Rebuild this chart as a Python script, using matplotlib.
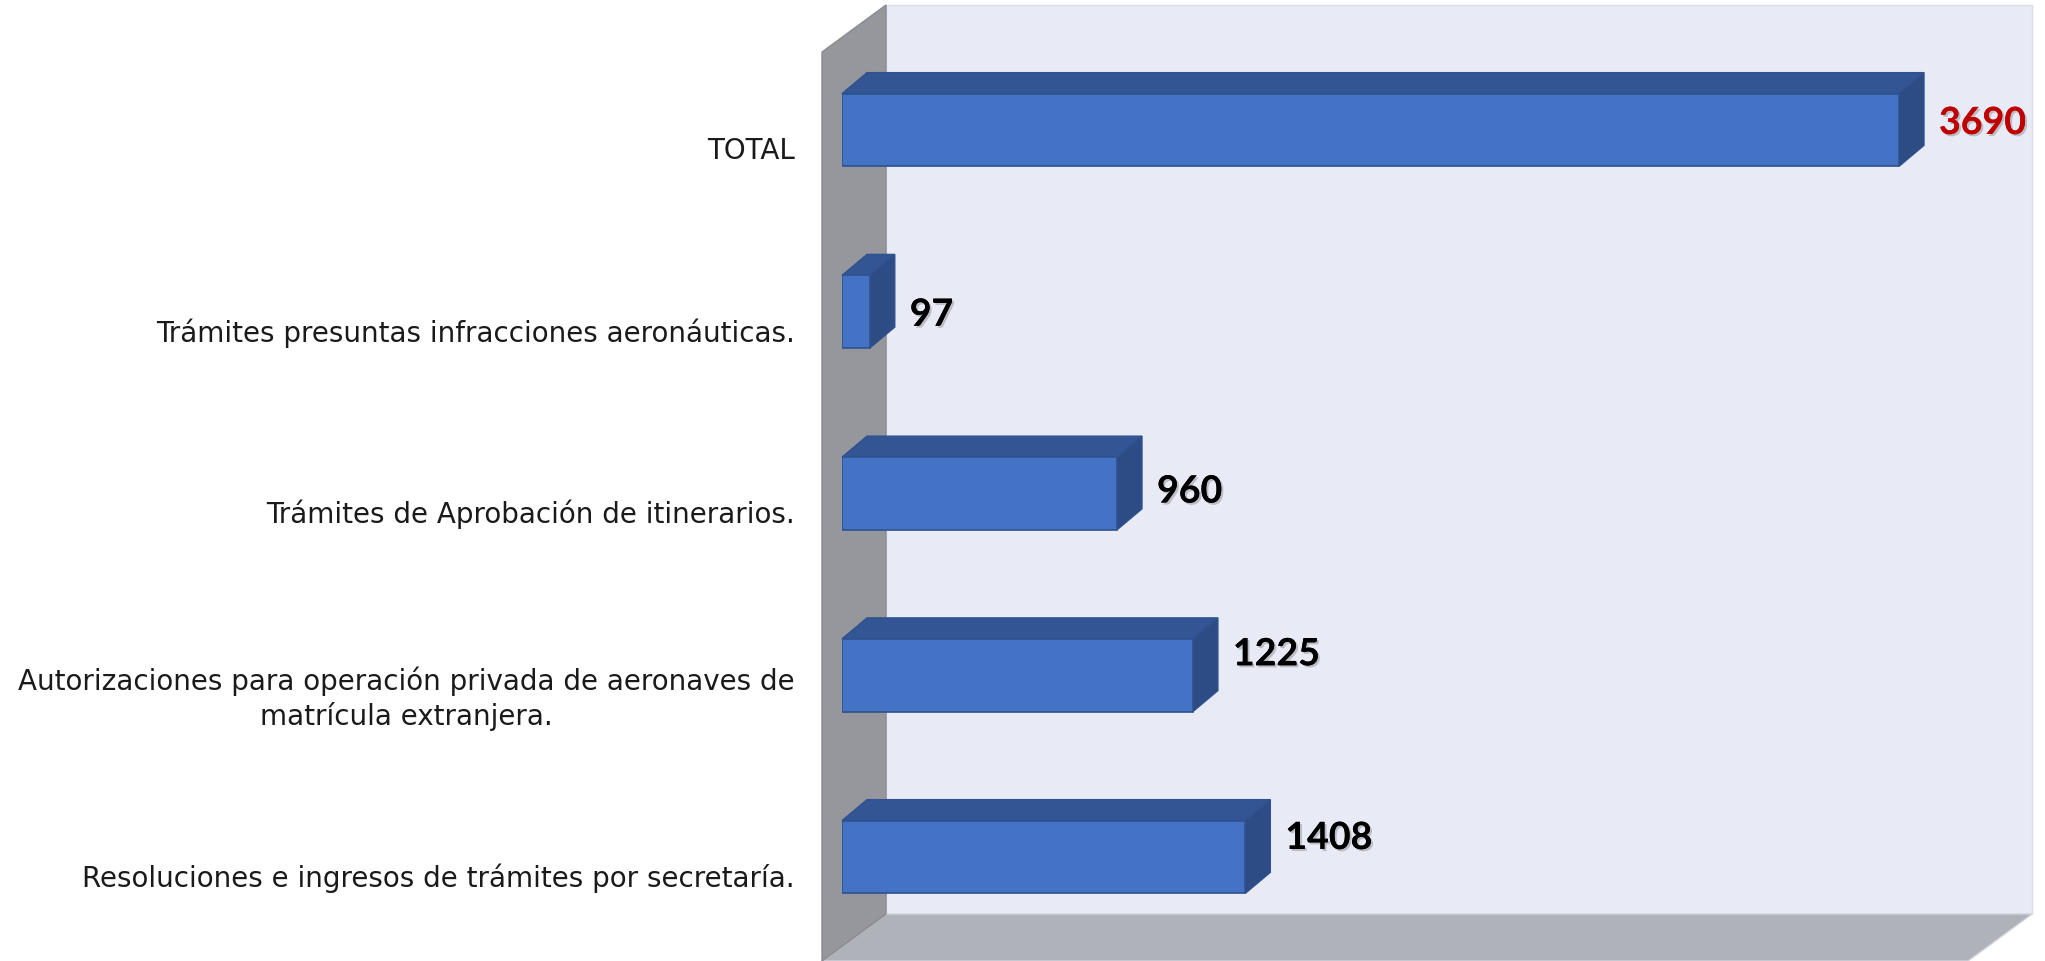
import matplotlib
matplotlib.use("Agg")
import matplotlib.pyplot as plt
from matplotlib.patches import Polygon
from matplotlib.transforms import IdentityTransform, ScaledTranslation
import matplotlib.patheffects as pe

# ---- data ----
categories = [
    "Resoluciones e ingresos de trámites por secretaría.",
    "Autorizaciones para operación privada de aeronaves de\nmatrícula extranjera.",
    "Trámites de Aprobación de itinerarios.",
    "Trámites presuntas infracciones aeronáuticas.",
    "TOTAL",
]
values = [1408, 1225, 960, 97, 3690]
label_colors = ["#000000", "#000000", "#000000", "#000000", "#C00000"]
label_dy_px = [19, 21, 2, -3, 7]   # small vertical nudges of value labels (pixels, up)

W, H, DPI = 2045, 961, 100
fig = plt.figure(figsize=(W / DPI, H / DPI), dpi=DPI)
fig.patch.set_facecolor("white")

# ---- background "3D" walls in pixel coordinates ----
bg = fig.add_axes([0, 0, 1, 1], zorder=0)
bg.set_xlim(0, W)
bg.set_ylim(H, 0)
bg.axis("off")
back = Polygon([(886, 5), (2032, 5), (2032, 914), (886, 914)],
               closed=True, facecolor="#E8EAF6", edgecolor="#D9DBE6", lw=1)
left = Polygon([(822, 52), (886, 5), (886, 914), (822, 961)],
               closed=True, facecolor="#96979D", edgecolor="#8A8B90", lw=1)
floor = Polygon([(886, 914), (2032, 914), (1968, 961), (822, 961)],
                closed=True, facecolor="#B0B2B9", edgecolor="#D0D2DA", lw=1)
for p in (back, floor, left):
    bg.add_patch(p)

# ---- main axes: x in data units ----
x0_px, x1_px = 842, 1899
yc_top, yc_bot = 130, 857
step = (yc_bot - yc_top) / 4
ax_bottom_px = H - (yc_bot + step / 2)
ax_h_px = (yc_bot - yc_top) + step
ax = fig.add_axes([x0_px / W, ax_bottom_px / H, (x1_px - x0_px) / W, ax_h_px / H], zorder=1)
ax.set_facecolor("none")
ax.set_xlim(0, max(values))
ax.set_ylim(-0.5, len(values) - 0.5)
for s in ax.spines.values():
    s.set_visible(False)
ax.set_xticks([])

ypos = list(range(len(values)))
bar_h = 0.40
ax.barh(ypos, values, height=bar_h, color="#4472C4", edgecolor="#2F528F", lw=1.2, zorder=3)

# 3D top and side faces
dx, dy = 25, 21
fig.canvas.draw()
for y, v in zip(ypos, values):
    (xl, yt), = ax.transData.transform([(0, y + bar_h / 2)])
    (xr, yb), = ax.transData.transform([(v, y - bar_h / 2)])
    top = Polygon([(xl, yt), (xl + dx, yt + dy), (xr + dx, yt + dy), (xr, yt)],
                  closed=True, facecolor="#335593", edgecolor="#2F528F", lw=1,
                  transform=IdentityTransform(), clip_on=False, zorder=2)
    side = Polygon([(xr, yt), (xr + dx, yt + dy), (xr + dx, yb + dy), (xr, yb)],
                   closed=True, facecolor="#2D4C86", edgecolor="#2F528F", lw=1,
                   transform=IdentityTransform(), clip_on=False, zorder=2)
    ax.add_patch(top)
    ax.add_patch(side)

# value labels
shadow = [pe.withSimplePatchShadow(offset=(1.5, -1.5), shadow_rgbFace="#888888", alpha=0.45), pe.Normal()]
for y, v, c, ddy in zip(ypos, values, label_colors, label_dy_px):
    ax.annotate(f"{v}", xy=(v, y), xytext=((dx + 15) * 72 / DPI, ddy * 72 / DPI),
                textcoords="offset points", ha="left", va="center",
                fontsize=27, fontweight="bold", color=c, family="Lato",
                path_effects=shadow, zorder=5, annotation_clip=False)

# category labels as y tick labels
ax.set_yticks(ypos)
ax.set_yticklabels(categories, fontsize=20, family="DejaVu Sans", color="#1A1A1A",
                   linespacing=1.25)
ax.tick_params(axis="y", length=0, pad=(x0_px - 795) * 72 / DPI)
for lab in ax.get_yticklabels():
    lab.set_multialignment("center")
    lab.set_transform(lab.get_transform() + ScaledTranslation(0, -18 / DPI, fig.dpi_scale_trans))

fig.savefig("out.png", dpi=DPI)
